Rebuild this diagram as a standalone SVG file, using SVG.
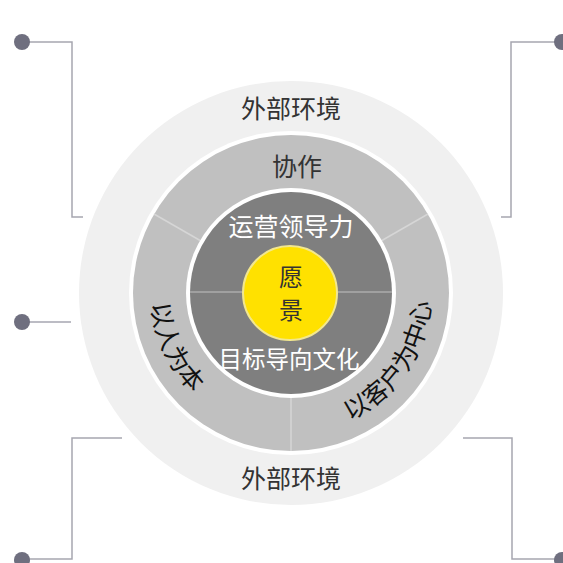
<svg xmlns="http://www.w3.org/2000/svg" width="563" height="563" viewBox="0 0 563 563">
<style>
.conn{fill:none;stroke:#a6a6b0;stroke-width:1.5}
.dot{fill:#6f6f7f}
.t{font-family:"Noto Sans CJK SC","Noto Sans",sans-serif;text-anchor:middle}
.dk{fill:#333333}
.wh{fill:#ffffff}
.bk{fill:#111111}
.div{stroke:#d6d6d6;stroke-width:1.5}
</style>
<defs>
<path id="arcL" d="M155.8,256.8 A140,140 0 0 0 231.8,419.9"/>
<path id="arcR" d="M316.5,430.7 A140,140 0 0 0 428.7,267.5"/>
</defs>
<rect width="563" height="563" fill="#ffffff"/>
<g id="connectors">
<polyline class="conn" points="22,42 72,42 72,217 83,217"/>
<polyline class="conn" points="561,42 511,42 511,217 501,217"/>
<polyline class="conn" points="22,322 71,322"/>
<polyline class="conn" points="22,559 72,559 72,438 122,438"/>
<polyline class="conn" points="561,559 512,559 512,438 463,438"/>
<circle class="dot" cx="22" cy="42" r="8"/>
<circle class="dot" cx="562" cy="42" r="8"/>
<circle class="dot" cx="22" cy="322" r="8"/>
<circle class="dot" cx="22" cy="560" r="8"/>
<circle class="dot" cx="562" cy="560" r="8"/>
</g>
<g id="outer">
<circle cx="291" cy="293" r="212" fill="#f0f0f0"/>
<circle cx="291" cy="293" r="162" fill="#ffffff"/>
<text class="t dk" x="291" y="118" font-size="25">外部环境</text>
<text class="t dk" x="291" y="488" font-size="25">外部环境</text>
</g>
<g id="middle">
<circle cx="291" cy="293" r="158" fill="#c0c0c0"/>
<line class="div" x1="291" y1="397" x2="291" y2="451"/>
<line class="div" x1="381" y1="241" x2="428" y2="214"/>
<line class="div" x1="201" y1="241" x2="154" y2="214"/>
<text class="t dk" x="297" y="176" font-size="25">协作</text>
<text class="t bk" font-size="25"><textPath href="#arcL" startOffset="50%">以人为本</textPath></text>
<text class="t bk" font-size="25"><textPath href="#arcR" startOffset="50%">以客户为中心</textPath></text>
</g>
<g id="inner">
<circle cx="291" cy="293" r="105" fill="#ffffff"/>
<circle cx="291" cy="293" r="101" fill="#7f7f7f"/>
<line x1="190" y1="292" x2="392" y2="292" stroke="#ababab" stroke-width="1.5"/>
<text class="t wh" x="291" y="236" font-size="25">运营领导力</text>
<text class="t wh" x="289" y="368" font-size="23.5">目标导向文化</text>
</g>
<g id="center">
<circle cx="290" cy="293" r="47" fill="#ffe100" stroke="#f2e78f" stroke-width="2"/>
<text class="t dk" x="291" y="286" font-size="24">愿</text>
<text class="t dk" x="291" y="319" font-size="24">景</text>
</g>
</svg>
